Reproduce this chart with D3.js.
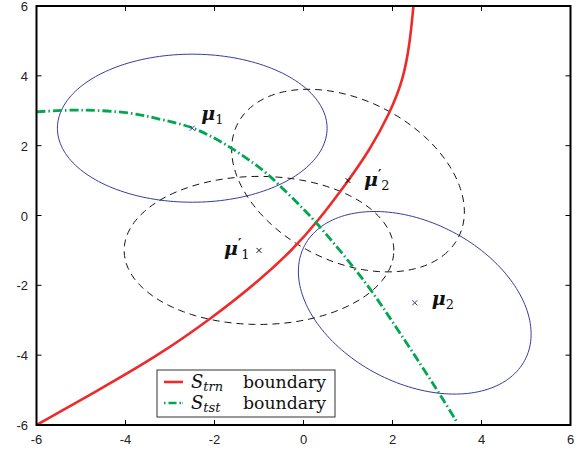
<!DOCTYPE html>
<html>
<head>
<meta charset="utf-8">
<script src="https://cdn.jsdelivr.net/npm/d3@7"></script>
<style>
  body { margin: 0; background: #fff; }
  svg { display: block; }
</style>
</head>
<body>
<div id="chart"></div>
<script>
// axis ticks
var xTicks = [-6, -4, -2, 0, 2, 4, 6];
var yTicks = [-6, -4, -2, 0, 2, 4, 6];

// class means (train: solid blue, test: dashed black)
var meanNames = ["1", "2", "1", "2"];
var meanPrime = [false, false, true, true];
var meanX = [-2.5, 2.5, -1, 1];
var meanY = [2.5, -2.5, -1, 1];

// covariance ellipses: semi axes (data units) and rotation in degrees
var ellA = [3.03, 3.03, 3.03, 3.03];
var ellB = [2.12, 2.12, 2.12, 2.12];
var ellAngle = [0, -45, 0, -45];

// S_trn boundary
var trnX = [-6.0, -4.65, -3.3, -2.06, -0.98, -0.23, 0.3, 1.0, 1.49, 1.94, 2.24, 2.39, 2.47];
var trnY = [-6.0, -5.03, -4.04, -2.94, -1.85, -0.96, -0.2, 0.98, 1.88, 2.93, 3.88, 4.93, 6.0];

// S_tst boundary
var tstX = [-6.0, -5.0, -3.9, -3.2, -2.48, -1.75, -0.9, -0.45, 0.0, 0.35, 1.37, 2.17, 3.14, 3.44];
var tstY = [2.97, 3.02, 2.93, 2.75, 2.5, 2.03, 1.28, 0.75, 0.18, -0.3, -1.89, -3.37, -5.28, -5.9];

var legendSub = ["trn", "tst"];

var width = 578, height = 450;
var svg = d3.select("#chart").append("svg")
    .attr("width", width)
    .attr("height", height);

var x = d3.scaleLinear().domain([-6, 6]).range([36.5, 570.5]);
var y = d3.scaleLinear().domain([-6, 6]).range([425, 6]);

svg.append("clipPath").attr("id", "clip")
    .append("rect")
    .attr("x", x(-6)).attr("y", y(6))
    .attr("width", x(6) - x(-6)).attr("height", y(-6) - y(6));

var plot = svg.append("g").attr("clip-path", "url(#clip)");

// ellipses
function ellipsePoints(i) {
    var pts = [];
    var th = ellAngle[i] * Math.PI / 180;
    for (var k = 0; k <= 180; k++) {
        var t = k / 180 * 2 * Math.PI;
        var ex = meanX[i] + ellA[i] * Math.cos(t) * Math.cos(th) - ellB[i] * Math.sin(t) * Math.sin(th);
        var ey = meanY[i] + ellA[i] * Math.cos(t) * Math.sin(th) + ellB[i] * Math.sin(t) * Math.cos(th);
        pts.push([ex, ey]);
    }
    return pts;
}

var line = d3.line()
    .x(function(d){ return x(d[0]); })
    .y(function(d){ return y(d[1]); });

for (var i = 0; i < meanX.length; i++) {
    plot.append("path")
        .attr("d", line(ellipsePoints(i)) + "Z")
        .attr("fill", "none")
        .attr("stroke", meanPrime[i] ? "#111" : "#3a3a9c")
        .attr("stroke-width", 1)
        .attr("stroke-dasharray", meanPrime[i] ? "7,5" : null);
}

var smooth = d3.line()
    .x(function(d){ return x(d[0]); })
    .y(function(d){ return y(d[1]); })
    .curve(d3.curveCatmullRom.alpha(0.5));

var trn = d3.zip(trnX, trnY);
var tst = d3.zip(tstX, tstY);

plot.append("path")
    .attr("d", d3.line().x(function(d){ return x(d[0]); }).y(function(d){ return y(d[1]); })
        .curve(d3.curveBasis)(trn))
    .attr("fill", "none")
    .attr("stroke", "#ee2b2b")
    .attr("stroke-width", 2.6);

plot.append("path")
    .attr("d", smooth(tst))
    .attr("fill", "none")
    .attr("stroke", "#00a650")
    .attr("stroke-width", 2.8)
    .attr("stroke-dasharray", "9,3,1.5,3");

// mean markers
for (var i = 0; i < meanX.length; i++) {
    var cx = x(meanX[i]), cy = y(meanY[i]);
    var col = meanPrime[i] ? "#111" : "#3a3a9c";
    svg.append("path")
        .attr("d", "M" + (cx - 2.5) + "," + (cy - 2.5) + "L" + (cx + 2.5) + "," + (cy + 2.5) +
                   "M" + (cx - 2.5) + "," + (cy + 2.5) + "L" + (cx + 2.5) + "," + (cy - 2.5))
        .attr("stroke", col)
        .attr("stroke-width", 1);
}

// mean labels (offset from marker in px)
var labDx = [9, 17, -35, 16];
var labDy = [-8, 2, 5, 5];
for (var i = 0; i < meanX.length; i++) {
    var t = svg.append("text")
        .attr("x", x(meanX[i]) + labDx[i])
        .attr("y", y(meanY[i]) + labDy[i])
        .attr("font-family", "'DejaVu Serif', serif")
        .attr("fill", "#111");
    t.append("tspan")
        .attr("font-size", 19)
        .attr("font-weight", "bold")
        .attr("font-style", "italic")
        .text("\u03bc");
    if (meanPrime[i]) {
        t.append("tspan")
            .attr("font-size", 13)
            .attr("font-weight", "bold")
            .attr("dy", -7)
            .text("\u2032");
        t.append("tspan")
            .attr("font-size", 13)
            .attr("dy", 11)
            .text(meanNames[i]);
    } else {
        t.append("tspan")
            .attr("font-size", 13)
            .attr("dy", 4)
            .text(meanNames[i]);
    }
}

// frame and ticks
svg.append("rect")
    .attr("x", x(-6)).attr("y", y(6))
    .attr("width", x(6) - x(-6)).attr("height", y(-6) - y(6))
    .attr("fill", "none")
    .attr("stroke", "#000")
    .attr("stroke-width", 2);

var ticks = svg.append("g").attr("stroke", "#000").attr("stroke-width", 1);
xTicks.forEach(function(v){
    ticks.append("line").attr("x1", x(v)).attr("x2", x(v)).attr("y1", y(-6)).attr("y2", y(-6) - 5);
    ticks.append("line").attr("x1", x(v)).attr("x2", x(v)).attr("y1", y(6)).attr("y2", y(6) + 5);
});
yTicks.forEach(function(v){
    ticks.append("line").attr("y1", y(v)).attr("y2", y(v)).attr("x1", x(-6)).attr("x2", x(-6) + 5);
    ticks.append("line").attr("y1", y(v)).attr("y2", y(v)).attr("x1", x(6)).attr("x2", x(6) - 5);
});

svg.append("g").selectAll("text")
    .data(xTicks).enter().append("text")
    .attr("x", function(d){ return x(d); })
    .attr("y", 444)
    .attr("text-anchor", "middle")
    .attr("font-family", "'Liberation Sans', Arial, sans-serif")
    .attr("font-size", 13)
    .attr("fill", "#222")
    .text(function(d){ return d; });

svg.append("g").selectAll("text")
    .data(yTicks).enter().append("text")
    .attr("x", 28)
    .attr("y", function(d){ return y(d) + 5; })
    .attr("text-anchor", "end")
    .attr("font-family", "'Liberation Sans', Arial, sans-serif")
    .attr("font-size", 13)
    .attr("fill", "#222")
    .text(function(d){ return d; });

// legend
var lg = svg.append("g").attr("transform", "translate(157,370)");
lg.append("rect")
    .attr("width", 178).attr("height", 47)
    .attr("fill", "#fff")
    .attr("stroke", "#333")
    .attr("stroke-width", 1);

legendSub.forEach(function(sub, i){
    var ly = 12 + i * 21;
    lg.append("line")
        .attr("x1", 7).attr("x2", 26).attr("y1", ly).attr("y2", ly)
        .attr("stroke", i == 0 ? "#ee2b2b" : "#00a650")
        .attr("stroke-width", 2.6)
        .attr("stroke-dasharray", i == 0 ? null : "1.5,3,8,3,1.5");
    var t = lg.append("text")
        .attr("x", 34).attr("y", ly + 6)
        .attr("font-family", "'DejaVu Serif', serif")
        .attr("fill", "#111");
    t.append("tspan").attr("font-size", 18).attr("font-style", "italic").text("S");
    t.append("tspan").attr("font-size", 13).attr("font-style", "italic").attr("dy", 3).text(sub);
    lg.append("text")
        .attr("x", 86).attr("y", ly + 6)
        .attr("font-family", "'DejaVu Serif', serif")
        .attr("font-size", 16)
        .attr("textLength", 83)
        .attr("lengthAdjust", "spacingAndGlyphs")
        .attr("fill", "#111")
        .text("boundary");
});
</script>
</body>
</html>
